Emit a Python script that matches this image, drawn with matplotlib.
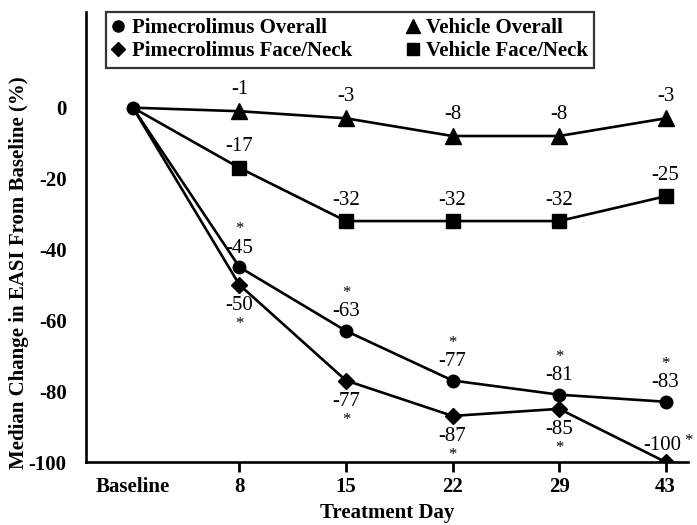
import matplotlib
matplotlib.use("Agg")
import matplotlib.pyplot as plt
from matplotlib.lines import Line2D

plt.rcParams['font.family'] = ['Liberation Serif', 'DejaVu Serif']

categories = ["Baseline", "8", "15", "22", "29", "43"]
pime_overall = [0, -45, -63, -77, -81, -83]
vehicle_overall = [0, -1, -3, -8, -8, -3]
pime_face = [0, -50, -77, -87, -85, -100]
vehicle_face = [0, -17, -32, -32, -32, -25]
pime_overall_sig = [False, True, True, True, True, True]
pime_face_sig = [False, True, True, True, True, True]

x = list(range(len(categories)))

fig = plt.figure(figsize=(6.97, 5.25), dpi=100)
ax = fig.add_axes([86/697, 1-462/525, (688-86)/697, (462-12)/525])

lw = 1.9
ms = dict(markerfacecolor='black', markeredgecolor='black', color='black')
ax.plot(x, vehicle_overall, lw=lw, marker='^', markersize=11, markevery=list(range(1, 6)), **ms, zorder=3)
ax.plot(x, vehicle_face, lw=lw, marker='s', markersize=9.5, markevery=list(range(1, 6)), **ms, zorder=3)
ax.plot(x, pime_face, lw=lw, marker='D', markersize=8, markevery=list(range(1, 6)), **ms, zorder=3)
ax.plot(x, pime_overall, lw=lw, marker='o', markersize=9, **ms, zorder=4)

fs = 15
afs = 12

def px(v):
    return v * 0.72

for i in range(1, 6):
    ax.annotate(str(vehicle_overall[i]), (x[i], vehicle_overall[i]), xytext=(0, px(22)),
                textcoords='offset points', ha='center', va='center', fontsize=fs)
    ax.annotate(str(vehicle_face[i]), (x[i], vehicle_face[i]), xytext=(0, px(21)),
                textcoords='offset points', ha='center', va='center', fontsize=fs)
    ax.annotate(str(pime_overall[i]), (x[i], pime_overall[i]), xytext=(0, px(19)),
                textcoords='offset points', ha='center', va='center', fontsize=fs)
    if pime_overall_sig[i]:
        ax.annotate("*", (x[i], pime_overall[i]), xytext=(0, px(38)),
                    textcoords='offset points', ha='center', va='center', fontsize=afs)
    if i < 5:
        ax.annotate(str(pime_face[i]), (x[i], pime_face[i]), xytext=(0, px(-21)),
                    textcoords='offset points', ha='center', va='center', fontsize=fs)
        if pime_face_sig[i]:
            ax.annotate("*", (x[i], pime_face[i]), xytext=(0, px(-39)),
                        textcoords='offset points', ha='center', va='center', fontsize=afs)
    else:
        ax.annotate(str(pime_face[i]), (x[i], pime_face[i]), xytext=(px(-3), px(16)),
                    textcoords='offset points', ha='center', va='center', fontsize=fs)
        if pime_face_sig[i]:
            ax.annotate("*", (x[i], pime_face[i]), xytext=(px(23), px(21)),
                        textcoords='offset points', ha='center', va='center', fontsize=afs,
                        annotation_clip=False)

ax.set_xlim(-0.44, 5.21)
ax.set_ylim(-100, 27)
ax.set_xticks(x)
ax.set_xticklabels(categories, fontsize=15, fontweight='bold')
ax.set_yticks([0, -20, -40, -60, -80, -100])
ax.set_yticklabels(["0", "-20", "-40", "-60", "-80", "-100"], fontsize=15, fontweight='bold')
ax.tick_params(axis='y', length=0, pad=14)
ax.tick_params(axis='x', length=7, width=2, direction='out', pad=4)
ax.xaxis.get_major_ticks()[0].tick1line.set_visible(False)
for s in ['top', 'right']:
    ax.spines[s].set_visible(False)
for s in ['left', 'bottom']:
    ax.spines[s].set_linewidth(1.9)

ax.set_xlabel("Treatment Day", fontsize=15, fontweight='bold', labelpad=4)
ax.set_ylabel("Median Change in EASI From Baseline (%)", fontsize=15, fontweight='bold')
ax.yaxis.set_label_coords(-0.094, 0.42)

handles = [
    Line2D([], [], ls='none', marker='o', markersize=8, color='black'),
    Line2D([], [], ls='none', marker='D', markersize=7, color='black'),
    Line2D([], [], ls='none', marker='^', markersize=10, color='black'),
    Line2D([], [], ls='none', marker='s', markersize=8.5, color='black'),
]
labels = ["Pimecrolimus Overall", "Pimecrolimus Face/Neck", "Vehicle Overall", "Vehicle Face/Neck"]
leg = fig.legend(handles, labels, ncol=2, loc='upper left', bbox_to_anchor=(106/697, 1-12/525),
                 frameon=True, fancybox=False, edgecolor='black', handlelength=0.6,
                 handletextpad=0.35, columnspacing=2.6, borderpad=0.3, labelspacing=0.15,
                 prop={'size': 15, 'weight': 'bold'}, borderaxespad=0)
leg.get_frame().set_linewidth(1.6)

fig.savefig("out.png", dpi=100)
